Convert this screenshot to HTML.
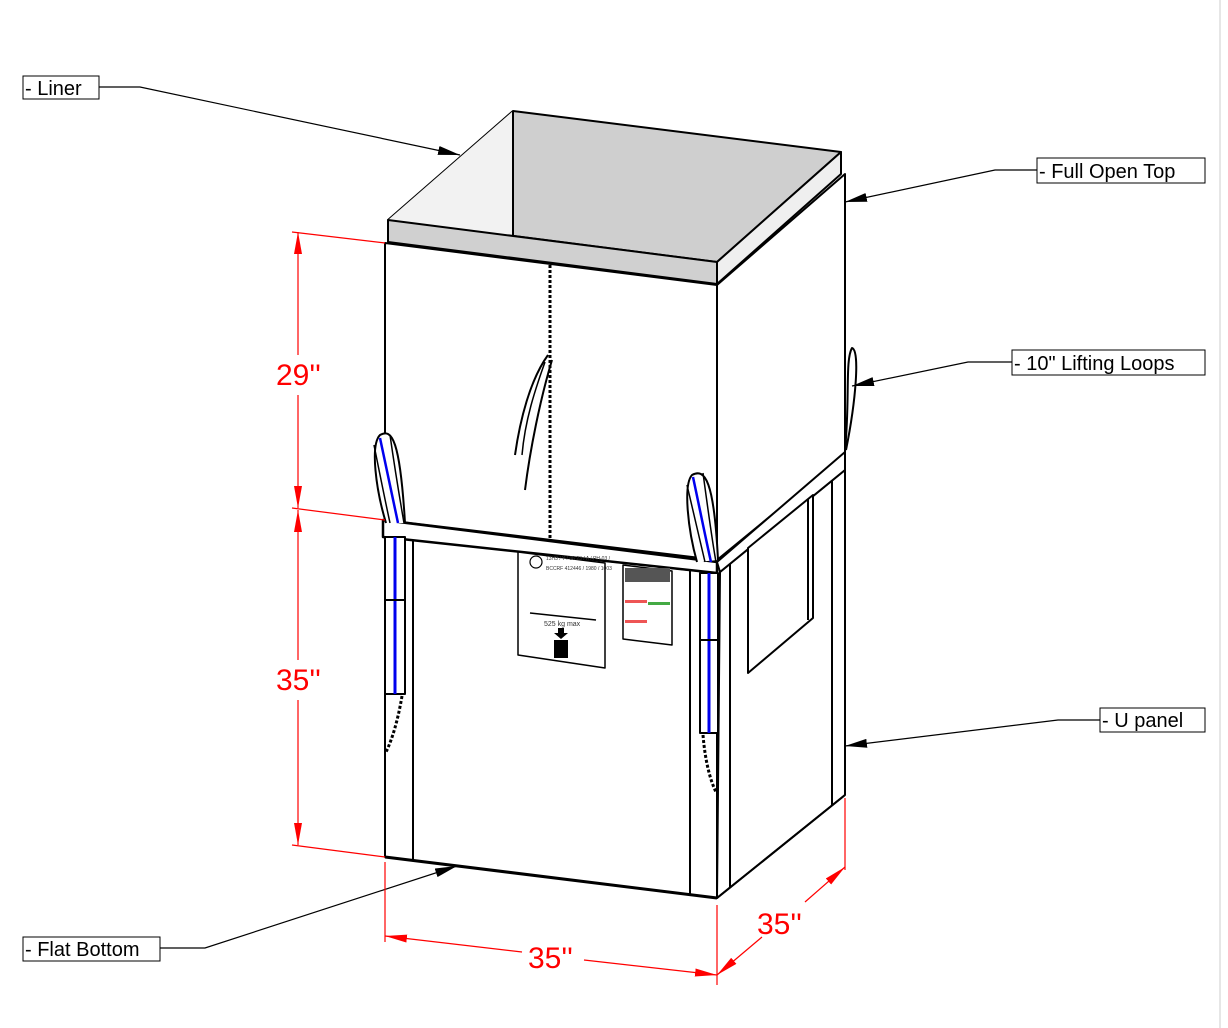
<!DOCTYPE html>
<html><head><style>body{margin:0;background:#fff}svg{display:block}</style></head><body>
<svg width="1228" height="1028" viewBox="0 0 1228 1028" xmlns="http://www.w3.org/2000/svg" font-family="Liberation Sans, sans-serif">
<defs>
<marker id="ab" viewBox="0 0 10 10" refX="10" refY="5" markerWidth="22" markerHeight="9" orient="auto" markerUnits="userSpaceOnUse" preserveAspectRatio="none"><path d="M0,0 L10,5 L0,10z" fill="#000"/></marker>
<marker id="ar" viewBox="0 0 10 10" refX="10" refY="5" markerWidth="22" markerHeight="8" orient="auto-start-reverse" markerUnits="userSpaceOnUse" preserveAspectRatio="none"><path d="M0,0 L10,5 L0,10z" fill="red"/></marker>
</defs>
<rect width="1228" height="1028" fill="#fff"/>
<line x1="1220" y1="0" x2="1220" y2="1028" stroke="#ccc" stroke-width="1"/>
<g stroke="#000" stroke-width="2" stroke-linejoin="round">
<polygon points="388,220 513,111 841,152 717,262" fill="#cfcfcf"/>
<polygon points="388,220 513,111 513,245 388,230" fill="#f2f2f2" stroke="none"/>
<line x1="513" y1="111" x2="513" y2="237"/>
<polygon points="388,220 717,262 717,284 388,242" fill="#d0d0d0"/>
<polygon points="717,262 841,152 841,174 717,284" fill="#efefef"/>
<polygon points="385,243 717,285 717,560 385,520" fill="#fff"/>
<polygon points="717,285 845,174 845,455 717,560" fill="#fff"/>
<polygon points="385,537 717,573 717,898 385,857" fill="#fff"/>
<polygon points="720,572 845,470 845,795 717,898" fill="#fff"/>
<line x1="385" y1="857" x2="717" y2="898" stroke-width="3"/>
<line x1="717" y1="898" x2="845" y2="795"/>
<line x1="413" y1="540" x2="413" y2="861"/>
<line x1="690" y1="570" x2="690" y2="895"/>
<line x1="730" y1="563" x2="730" y2="888"/>
<line x1="832" y1="480" x2="832" y2="805"/>
<polygon points="383,520 717,562 717,573 383,537" fill="#fff" stroke-width="2.5"/>
<polygon points="717,562 845,452 845,470 720,572" fill="#fff"/>
<polygon points="748,548 813,495 813,618 748,673" fill="#fff"/>
<line x1="808" y1="499" x2="808" y2="620"/>
<line x1="550" y1="265" x2="550" y2="540" stroke-width="3" stroke-dasharray="3,2"/>
<path d="M548,355 C530,380 520,420 515,455" fill="none" stroke-width="2"/>
<path d="M552,360 C540,400 530,450 525,490" fill="none" stroke-width="2"/>
<path d="M545,362 C535,390 525,420 522,455" fill="none" stroke-width="1.5"/>
<!-- left loop -->
<path d="M386,523 C376,490 370,445 380,435 C392,428 400,440 405,523" fill="#fff"/>
<path d="M374,445 C380,475 385,500 390,523" fill="none" stroke-width="1.5"/>
<path d="M380,438 C387,470 393,500 398,523" fill="none" stroke="#0000ee" stroke-width="2.5"/>
<path d="M390,435 C395,470 400,500 404,523" fill="none" stroke-width="1.5"/>
<rect x="385" y="537" width="20" height="157" fill="#fff"/>
<line x1="395" y1="537" x2="395" y2="694" stroke="#0000ee" stroke-width="3"/>
<line x1="385" y1="600" x2="405" y2="600"/>
<path d="M402,696 C398,720 392,740 386,752" fill="none" stroke-width="3" stroke-dasharray="3,2"/>
<!-- right loop -->
<path d="M697,562 C688,530 683,485 692,475 C705,468 714,480 718,560" fill="#fff"/>
<path d="M687,485 C694,515 700,540 705,562" fill="none" stroke-width="1.5"/>
<path d="M693,477 C700,510 706,540 711,562" fill="none" stroke="#0000ee" stroke-width="2.5"/>
<path d="M703,473 C708,510 712,540 716,562" fill="none" stroke-width="1.5"/>
<rect x="700" y="573" width="18" height="160" fill="#fff"/>
<line x1="709" y1="573" x2="709" y2="733" stroke="#0000ee" stroke-width="3"/>
<line x1="700" y1="640" x2="718" y2="640"/>
<path d="M703,735 C705,760 710,780 716,792" fill="none" stroke-width="3" stroke-dasharray="3,2"/>
<path d="M845,450 C850,400 845,360 852,348 C860,350 856,400 846,450" fill="#fff"/>
<polygon points="518,552 605,563 605,668 518,655" fill="#fff" stroke-width="1.5"/>
<polygon points="623,565 672,571 672,645 623,639" fill="#fff" stroke-width="1.5"/>
<rect x="554" y="640" width="14" height="18" fill="#000" stroke="none"/>
<path d="M558,628 h6 v5 h4 l-7,6 l-7,-6 h4z" fill="#000" stroke="none"/>
<line x1="530" y1="613" x2="596" y2="620" stroke-width="1.5"/>
<circle cx="536" cy="562" r="6" fill="none" stroke-width="1.2"/>
<rect x="625" y="568" width="45" height="14" fill="#555" stroke="none"/>
<rect x="625" y="600" width="22" height="3" fill="#e55" stroke="none"/>
<rect x="648" y="602" width="22" height="3" fill="#4a4" stroke="none"/>
<rect x="625" y="620" width="22" height="3" fill="#e55" stroke="none"/>
</g>
<g font-size="5" fill="#333">
<text x="546" y="560">13H3 / Y / 06 23 / A / PH-03 /</text>
<text x="546" y="570">BCCRF 412446 / 1980 / 1003</text>
<text x="544" y="626" font-size="7">525  kg max</text>
</g>
<g stroke="#000" stroke-width="1.2" fill="none">
<polyline points="99,87 140,87 460,155" marker-end="url(#ab)"/>
<polyline points="1037,170 995,170 845,202" marker-end="url(#ab)"/>
<polyline points="1012,362 968,362 852,386" marker-end="url(#ab)"/>
<polyline points="1100,720 1058,720 845,746" marker-end="url(#ab)"/>
<polyline points="160,948 205,948 457,866" marker-end="url(#ab)"/>
</g>
<g font-size="20" fill="#000">
<rect x="23" y="76" width="76" height="23" fill="#fff" stroke="#000" stroke-width="1"/><text x="25" y="95">- Liner</text>
<rect x="1037" y="158" width="168" height="25" fill="#fff" stroke="#000" stroke-width="1"/><text x="1039" y="178">- Full Open Top</text>
<rect x="1012" y="350" width="193" height="25" fill="#fff" stroke="#000" stroke-width="1"/><text x="1014" y="370">- 10" Lifting Loops</text>
<rect x="1100" y="708" width="105" height="24" fill="#fff" stroke="#000" stroke-width="1"/><text x="1102" y="727">- U panel</text>
<rect x="23" y="937" width="137" height="24" fill="#fff" stroke="#000" stroke-width="1"/><text x="25" y="956">- Flat Bottom</text>
</g>
<g stroke="red" stroke-width="1.2" fill="none">
<line x1="292" y1="232" x2="385" y2="243"/>
<line x1="292" y1="508" x2="385" y2="520"/>
<line x1="292" y1="845" x2="385" y2="857"/>
<line x1="298" y1="232" x2="298" y2="355" marker-start="url(#ar)"/>
<line x1="298" y1="395" x2="298" y2="508" marker-end="url(#ar)"/>
<line x1="298" y1="510" x2="298" y2="660" marker-start="url(#ar)"/>
<line x1="298" y1="700" x2="298" y2="845" marker-end="url(#ar)"/>
<line x1="385" y1="862" x2="385" y2="942"/>
<line x1="717" y1="905" x2="717" y2="985"/>
<line x1="845" y1="798" x2="845" y2="870"/>
<line x1="385" y1="936" x2="522" y2="952" marker-start="url(#ar)"/>
<line x1="584" y1="960" x2="717" y2="975" marker-end="url(#ar)"/>
<line x1="717" y1="975" x2="762" y2="937" marker-start="url(#ar)"/>
<line x1="805" y1="902" x2="845" y2="867" marker-end="url(#ar)"/>
</g>
<g font-size="30" fill="red">
<text x="276" y="385">29''</text>
<text x="276" y="690">35''</text>
<text x="528" y="968">35''</text>
<text x="757" y="934">35''</text>
</g>
</svg>
</body></html>
